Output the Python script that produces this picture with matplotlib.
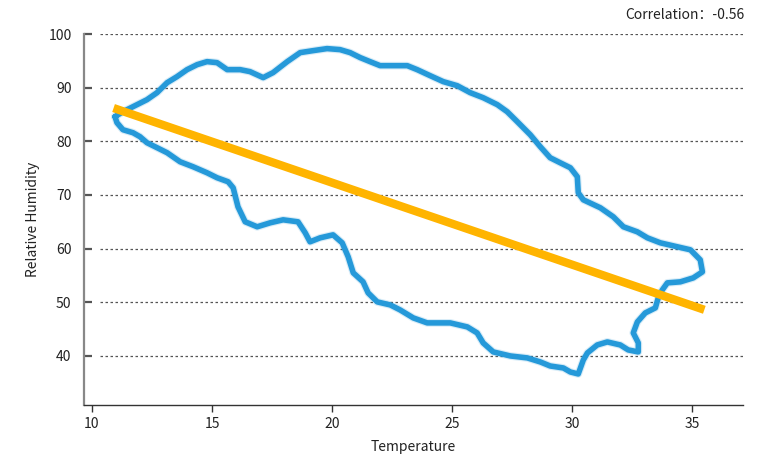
import numpy as np
import matplotlib.pyplot as plt

plt.rcParams['font.family'] = ['Noto Sans CJK SC', 'DejaVu Sans']

# Contorno (temperatura, humedad relativa)
blob_temp = [10.96, 11.29, 11.71, 12.29, 12.71, 13.13, 13.54, 13.96, 14.38, 14.79,
             15.21, 15.63, 16.17, 16.58, 17.13, 17.54, 18.13, 18.67, 19.21, 19.79,
             20.33, 20.75, 21.17, 21.58, 22.0, 22.54, 23.13, 23.54, 24.08, 24.63,
             25.21, 25.75, 26.29, 26.88, 27.29, 27.71, 28.25, 28.67, 29.08, 29.5,
             29.92, 30.21, 30.25, 30.46, 31.17, 31.71, 32.13, 32.71, 33.13, 33.67,
             34.38, 34.92, 35.33, 35.42, 35.04, 34.5, 33.96, 33.75, 33.58, 33.46,
             33.04, 32.71, 32.54, 32.75, 32.75, 32.33, 32.0, 31.46, 31.04, 30.63,
             30.46, 30.25, 29.92, 29.63, 29.08, 28.67, 28.13, 27.42, 26.71, 26.29,
             26.04, 25.63, 24.92, 23.96, 23.38, 22.83, 22.42, 21.88, 21.5, 21.29,
             20.88, 20.67, 20.42, 20.04, 19.5, 19.08, 18.88, 18.58, 17.96, 17.42,
             16.88, 16.38, 16.08, 15.88, 15.67, 15.21, 14.79, 14.21, 13.67, 13.13,
             12.71, 12.29, 12.0, 11.71, 11.29, 11.04]
blob_hum = [84.6, 85.52, 86.46, 87.76, 89.07, 90.93, 92.05, 93.36, 94.29, 94.85,
            94.66, 93.36, 93.36, 92.99, 91.87, 92.8, 94.85, 96.53, 96.9, 97.28,
            97.09, 96.53, 95.6, 94.85, 94.1, 94.1, 94.1, 93.36, 92.24, 91.12,
            90.37, 89.07, 88.13, 86.83, 85.52, 83.66, 81.23, 78.99, 76.94, 76.0,
            75.07, 73.4, 70.41, 69.1, 67.61, 65.93, 64.07, 63.13, 62.01, 61.08,
            60.34, 59.78, 57.91, 55.67, 54.55, 53.81, 53.62, 52.31, 50.82, 48.96,
            48.02, 46.34, 44.29, 42.43, 40.75, 41.12, 42.05, 42.61, 42.05, 40.56,
            39.25, 36.64, 37.01, 37.76, 38.13, 38.88, 39.63, 40.0, 40.75, 42.43,
            44.29, 45.41, 46.16, 46.16, 47.09, 48.58, 49.51, 50.07, 51.75, 53.81,
            55.49, 58.47, 61.08, 62.57, 62.01, 61.27, 62.95, 65.0, 65.37, 64.81,
            64.07, 65.0, 67.8, 71.34, 72.46, 73.21, 74.14, 75.26, 76.19, 77.87,
            78.81, 79.74, 80.86, 81.6, 82.16, 83.47]

# Línea de tendencia
trend_temp = [10.9, 35.5]
trend_hum = [86.2, 48.6]
correlation = -0.56

x_ticks = [10, 15, 20, 25, 30, 35]
y_ticks = [40, 50, 60, 70, 80, 90, 100]

fig = plt.figure(figsize=(7.71, 4.62), dpi=100)
ax = fig.add_axes([0.109, 0.1234, 0.855, 0.8030])

# Cuadrícula punteada que empieza un poco separada del eje
ax.hlines(y_ticks, 0.024, 1, transform=ax.get_yaxis_transform(),
          colors='#555555', linewidth=0.9, linestyles=(0, (2, 2)), zorder=1)

bx = blob_temp + blob_temp[:1]
by = blob_hum + blob_hum[:1]
# halo suave + línea principal
ax.plot(bx, by, color='#2b9ad8', linewidth=5.6, alpha=0.18, zorder=2,
        solid_capstyle='round', solid_joinstyle='round')
ax.plot(bx, by, color='#2599d9', linewidth=4.0, zorder=3,
        solid_capstyle='round', solid_joinstyle='round')

ax.plot(trend_temp, trend_hum, color='#ffb400', linewidth=6, zorder=4,
        solid_capstyle='butt')

ax.set_xlim(9.67, 37.12)
ax.set_ylim(30.86, 100)
ax.set_xticks(x_ticks)
ax.set_yticks(y_ticks)

for s in ['top', 'right']:
    ax.spines[s].set_visible(False)
ax.spines['left'].set_color('#888888')
ax.spines['left'].set_linewidth(1.6)
ax.spines['bottom'].set_color('#333333')
ax.spines['bottom'].set_linewidth(1.0)

ax.tick_params(axis='y', direction='in', length=6, width=1.6, color='#555555',
               pad=9, labelsize=10, labelcolor='#222222')
ax.tick_params(axis='x', direction='out', length=5, width=1.0, color='#333333',
               pad=4, labelsize=10, labelcolor='#222222')

ax.set_xlabel('Temperature', fontsize=10, color='#222222', labelpad=6)
ax.set_ylabel('Relative Humidity', fontsize=10, color='#222222', labelpad=6)

fig.text(0.966, 0.968, f'Correlation：{correlation:.2f}', ha='right', va='center',
         fontsize=10, color='#222222')

fig.savefig('out.png', dpi=100)
